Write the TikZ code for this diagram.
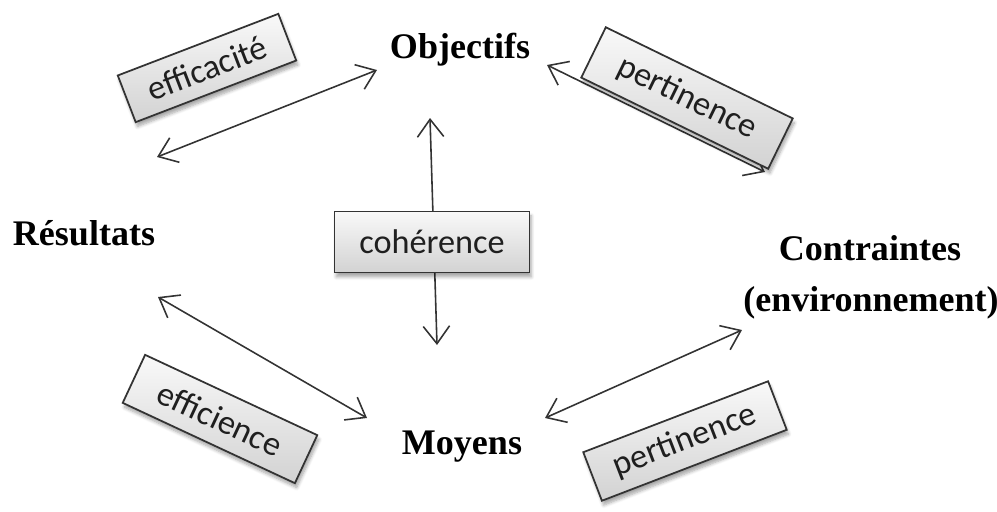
\documentclass[tikz,border=0pt]{standalone}
\usepackage{fontspec}
\setmainfont{Liberation Serif}
\newfontfamily\tagfont{Carlito}
\usetikzlibrary{arrows.meta,shadows.blur}

\tikzset{
  pole/.style={font=\fontsize{20.5}{24}\selectfont\bfseries, inner sep=0pt},
  tag/.style={draw=black!80, line width=1pt, top color=gray!5, bottom color=gray!35,
    text=black!88, font=\tagfont\fontsize{19.5}{22}\selectfont, inner sep=0pt,
    blur shadow={shadow xshift=1pt, shadow yshift=-2.5pt, shadow blur steps=6, shadow opacity=35}},
  link/.style={draw=black!80, line width=0.9pt,
    {Straight Barb[length=10pt,width=15pt]}-{Straight Barb[length=10pt,width=15pt]}}
}

\begin{document}
\begin{tikzpicture}[x=0.02cm,y=-0.02cm]
    \useasboundingbox (0,0) rectangle (997,511);
    % les poles
    \node[pole] (obj) at (460,50) {Objectifs};
    \node[pole] (res) at (84,233) {Résultats};
    \node[pole] (con) at (870,248) {Contraintes};
    \node[pole] (env) at (871,303) {(environnement)};
    \node[pole] (moy) at (462,447) {Moyens};

    % bouts des fleches
    \coordinate (effcaL) at (157,157);
    \coordinate (effcaR) at (377,70);
    \coordinate (pertaL) at (547,65);
    \coordinate (pertaR) at (765,172);
    \coordinate (cohT) at (430,118);
    \coordinate (cohB) at (437,345);
    \coordinate (effceL) at (158,297);
    \coordinate (effceR) at (367,418);
    \coordinate (pertbL) at (545,418);
    \coordinate (pertbR) at (742,330);

    \draw[link] (effcaL) -- (effcaR);
    \draw[link] (pertaL) -- (pertaR);
    \draw[link] (cohT) -- (cohB);
    \draw[link] (effceL) -- (effceR);
    \draw[link] (pertbL) -- (pertbR);

    % les criteres
    \node[tag, minimum width=3.9cm, minimum height=1.22cm] (coh) at (432,242) {cohérence};
    \node[tag, rotate=21, minimum width=3.44cm, minimum height=1.0cm] (effca) at (207,68) {efficacité};
    \node[tag, rotate=-26, minimum width=4.16cm, minimum height=1.12cm] (perta) at (687,98) {pertinence};
    \node[tag, rotate=-25, minimum width=3.8cm, minimum height=1.06cm] (effce) at (220,419) {efficience};
    \node[tag, rotate=21, minimum width=3.96cm, minimum height=1.04cm] (pertb) at (685,441) {pertinence};
\end{tikzpicture}
\end{document}
